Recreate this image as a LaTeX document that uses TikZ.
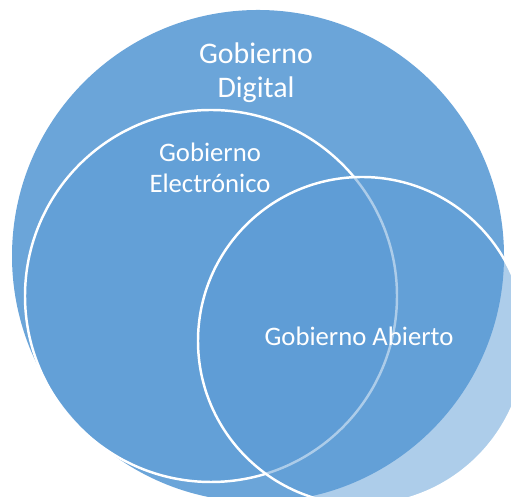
\documentclass[tikz,border=0pt]{standalone}
\usepackage{fontspec}
\setmainfont{Carlito}
\definecolor{azul}{HTML}{5B9BD5}
\begin{document}
\begin{tikzpicture}[
        conjunto/.style={fill=azul, fill opacity=0.5, draw=white, line width=1.4pt},
        etiqueta/.style={text=white, align=center, inner sep=0pt}]
        \clip (0,0) rectangle (10.22,9.94);
        % Gobierno Digital
        \fill[azul, fill opacity=0.9] (5.16,4.82) circle (4.92);
        % Gobierno Electronico
        \draw[conjunto] (4.22,4.02) circle (3.72);
        % Gobierno Abierto
        \draw[conjunto] (7.24,3.12) circle (3.28);
        \node[etiqueta, font=\fontsize{17}{19.5}\selectfont] (digital) at (5.12,8.48) {Gobierno\\Digital};
        \node[etiqueta, font=\fontsize{15.2}{17.6}\selectfont] (electronico) at (4.20,6.58) {Gobierno\\Electrónico};
        \node[etiqueta, font=\fontsize{15.2}{17.6}\selectfont] (abierto) at (7.18,3.21) {Gobierno Abierto};
\end{tikzpicture}
\end{document}
